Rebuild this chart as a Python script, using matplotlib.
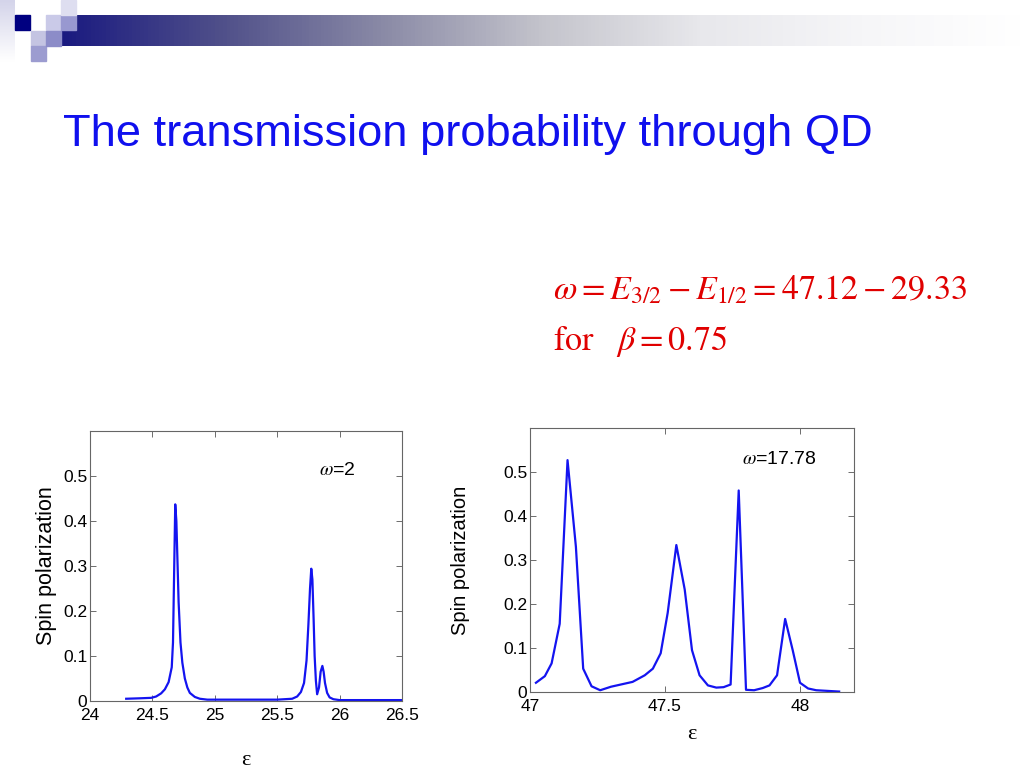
import numpy as np
import matplotlib
matplotlib.use('Agg')
import matplotlib.pyplot as plt
from matplotlib.colors import LinearSegmentedColormap
from matplotlib.patches import Rectangle

plt.rcParams['font.family'] = ['Liberation Sans', 'DejaVu Sans']
plt.rcParams['mathtext.fontset'] = 'stix'

# data
eps_left = [24.29, 24.40, 24.49, 24.53, 24.57, 24.60, 24.63, 24.655, 24.665, 24.675,
            24.683, 24.692, 24.70, 24.71, 24.725, 24.74, 24.76, 24.78, 24.80, 24.84,
            24.88, 24.94, 25.2, 25.5, 25.62, 25.66, 25.69, 25.715, 25.735, 25.75,
            25.763, 25.773, 25.782, 25.792, 25.80, 25.81, 25.82, 25.835, 25.848, 25.862,
            25.872, 25.883, 25.90, 25.92, 25.95, 26.0, 26.2, 26.5]
pol_left = [0.005, 0.006, 0.007, 0.010, 0.017, 0.026, 0.042, 0.075, 0.13, 0.30,
            0.437, 0.40, 0.32, 0.22, 0.13, 0.085, 0.05, 0.03, 0.018, 0.009,
            0.005, 0.003, 0.003, 0.003, 0.005, 0.010, 0.020, 0.040, 0.09, 0.17,
            0.25, 0.294, 0.27, 0.18, 0.10, 0.045, 0.015, 0.03, 0.065, 0.078,
            0.065, 0.04, 0.018, 0.008, 0.004, 0.002, 0.002, 0.002]

eps_right = [47.022, 47.055, 47.08, 47.11, 47.139, 47.17, 47.197, 47.228, 47.26, 47.30,
             47.38, 47.425, 47.455, 47.484, 47.51, 47.542, 47.573, 47.60, 47.628, 47.659,
             47.69, 47.717, 47.743, 47.773, 47.80, 47.83, 47.862, 47.887, 47.915, 47.945,
             47.973, 48.0, 48.03, 48.06, 48.145]
pol_right = [0.021, 0.036, 0.065, 0.155, 0.527, 0.33, 0.053, 0.013, 0.004, 0.012,
             0.023, 0.038, 0.053, 0.088, 0.18, 0.334, 0.233, 0.095, 0.038, 0.015,
             0.010, 0.011, 0.017, 0.458, 0.005, 0.004, 0.009, 0.015, 0.038, 0.166,
             0.095, 0.021, 0.008, 0.004, 0.001]

xticks_left = [24, 24.5, 25, 25.5, 26, 26.5]
xticks_right = [47, 47.5, 48]
yticks = [0, 0.1, 0.2, 0.3, 0.4, 0.5]
ytick_labels = ['0', '0.1', '0.2', '0.3', '0.4', '0.5']

W, H = 1024, 768
fig = plt.figure(figsize=(10.24, 7.68), dpi=100)

# slide background decoration
bg = fig.add_axes([0, 0, 1, 1])
bg.set_xlim(0, W)
bg.set_ylim(H, 0)
bg.axis('off')
bar_cmap = LinearSegmentedColormap.from_list(
    'bar', ['#1a1a80', '#50508a', '#8a8aa6', '#c4c4cc', '#e8e8ec', '#f6f6f8', '#ffffff'])
bg.imshow(np.linspace(0, 1, 256).reshape(1, -1), cmap=bar_cmap, aspect='auto',
          extent=[61, W, 46, 15], zorder=1)
bg.imshow(np.linspace(0, 1, 64).reshape(-1, 1),
          cmap=LinearSegmentedColormap.from_list('strip', ['#d4d4ea', '#ffffff']),
          aspect='auto', extent=[0, 15, 62, 0], zorder=1)
squares = [(15, 15, '#000080'), (31, 31, '#c4c4e2'), (31, 46, '#9c9cd0'),
           (46, 15, '#cacae8'), (46, 31, '#8c8cc8'), (61, 15, '#9898d0'),
           (61, 0, '#dedef0')]
for sx, sy, c in squares:
    bg.add_patch(Rectangle((sx, sy), 15, 15, color=c, zorder=2))

fig.text(63 / W, 1 - 146 / H, 'The transmission probability through QD',
         color='#1010ee', fontsize=32.6, ha='left', va='baseline')
fig.text(553 / W, 1 - 299 / H, r'$\omega = E_{3/2} - E_{1/2} = 47.12 - 29.33$',
         color='#e00000', fontsize=24.5, ha='left', va='baseline')
fig.text(553 / W, 1 - 350 / H, r'$\mathrm{for}\quad\beta = 0.75$',
         color='#e00000', fontsize=24.5, ha='left', va='baseline')


def panel(rect, x, y, xlim, xticks, note, note_xy, ylab_size, ylab_pad, xlab_pad):
    ax = fig.add_axes(rect)
    ax.plot(x, y, color='#1414f0', linewidth=1.6)
    ax.set_xlim(*xlim)
    ax.set_ylim(0, 0.6)
    ax.set_xticks(xticks)
    ax.set_xticklabels([f'{t:g}' for t in xticks])
    ax.set_yticks(yticks)
    ax.set_yticklabels(ytick_labels)
    ax.tick_params(direction='in', top=True, right=True, length=4, width=0.6,
                   labelsize=12.5, pad=2, colors='#555555', labelcolor='black')
    ax.tick_params(axis='x', pad=5)
    for s in ax.spines.values():
        s.set_color('#666666')
        s.set_linewidth(0.8)
    ax.set_ylabel('Spin polarization', fontsize=ylab_size, labelpad=ylab_pad)
    ax.set_xlabel('ε', fontsize=16, family=['Liberation Serif', 'DejaVu Serif'],
                  labelpad=xlab_pad)
    ax.text(note_xy[0], note_xy[1], note, transform=ax.transAxes, fontsize=14,
            ha='left', va='center')
    return ax


axl = panel([90 / W, 1 - 701 / H, 312 / W, 270 / H], eps_left, pol_left,
            (24, 26.5), xticks_left, r'$\omega$=2', (0.735, 0.855), 15.5, 4, 20)
axr = panel([530 / W, 1 - 692 / H, 324 / W, 264 / H], eps_right, pol_right,
            (47, 48.2), xticks_right, r'$\omega$=17.78', (0.655, 0.88), 14.5, 24, 8)

fig.savefig('out.png', dpi=100)
